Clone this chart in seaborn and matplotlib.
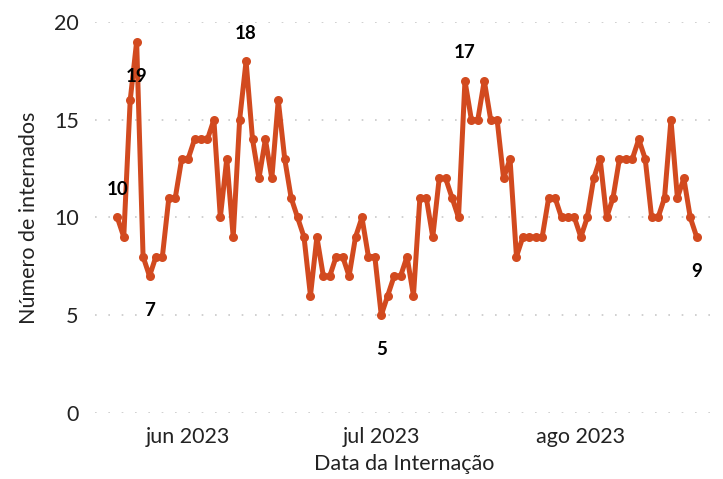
import pandas as pd
import matplotlib
matplotlib.use("Agg")
import matplotlib.pyplot as plt
import seaborn as sns

# daily admissions, 21 May - 19 Aug 2023
start_date = "2023-05-21"
internados = [10, 9, 16, 19, 8, 7, 8, 8, 11, 11,
              13, 13, 14, 14, 14, 15, 10, 13, 9, 15,
              18, 14, 12, 14, 12, 16, 13, 11, 10, 9,
              6, 9, 7, 7, 8, 8, 7, 9, 10, 8,
              8, 5, 6, 7, 7, 8, 6, 11, 11, 9,
              12, 12, 11, 10, 17, 15, 15, 17, 15, 15,
              12, 13, 8, 9, 9, 9, 9, 11, 11, 10,
              10, 10, 9, 10, 12, 13, 10, 11, 13, 13,
              13, 14, 13, 10, 10, 11, 15, 11, 12, 10,
              9]
month_ticks = ["2023-06-01", "2023-07-01", "2023-08-01"]
month_labels = ["jun 2023", "jul 2023", "ago 2023"]
# points that get a value label, and whether it goes above or below
label_idx = [0, 3, 5, 20, 41, 54, 90]
label_pos = ["above", "below", "below", "above", "below", "above", "below"]

df = pd.DataFrame({
    "Data da Internação": pd.date_range(start_date, periods=len(internados), freq="D"),
    "Número de internados": internados,
})

sns.set_style("white")
plt.rcParams["font.family"] = ["Lato", "DejaVu Sans"]

orange = "#D24A1F"
fig = plt.figure(figsize=(7.23, 4.79), dpi=100)
ax = fig.add_axes([0.132, 0.138, 0.853, 0.816])

sns.lineplot(data=df, x="Data da Internação", y="Número de internados", ax=ax,
             color=orange, linewidth=3.6, marker="o", markersize=6.5,
             markeredgewidth=0, clip_on=False)

for i, pos in zip(label_idx, label_pos):
    d = df["Data da Internação"].iloc[i]
    v = df["Número de internados"].iloc[i]
    dy = 20 if pos == "above" else -25
    ax.annotate(str(v), (d, v), xytext=(0, dy), textcoords="offset points",
                ha="center", va="center", fontsize=13.5, fontweight="bold",
                color="black")

ax.set_ylim(0, 20)
ax.set_yticks([0, 5, 10, 15, 20])
ax.set_xlim(df["Data da Internação"].iloc[0] - pd.Timedelta(days=3.4),
            df["Data da Internação"].iloc[-1] + pd.Timedelta(days=2.4))
ax.set_xticks(pd.to_datetime(month_ticks))
ax.set_xticklabels(month_labels)

ax.grid(axis="y", color="#c8c8c8", linewidth=1.2, linestyle=(0, (1, 7)))
ax.grid(axis="x", visible=False)
ax.set_axisbelow(True)
for s in ax.spines.values():
    s.set_visible(False)
ax.tick_params(axis="both", length=0, labelsize=15.5, colors="#222222")
ax.tick_params(axis="x", pad=10)
ax.tick_params(axis="y", pad=12)
ax.set_xlabel("Data da Internação", fontsize=15.5, color="#222222", labelpad=5)
ax.set_ylabel("Número de internados", fontsize=15.5, color="#222222", labelpad=11)

fig.savefig("out.png", dpi=100)
